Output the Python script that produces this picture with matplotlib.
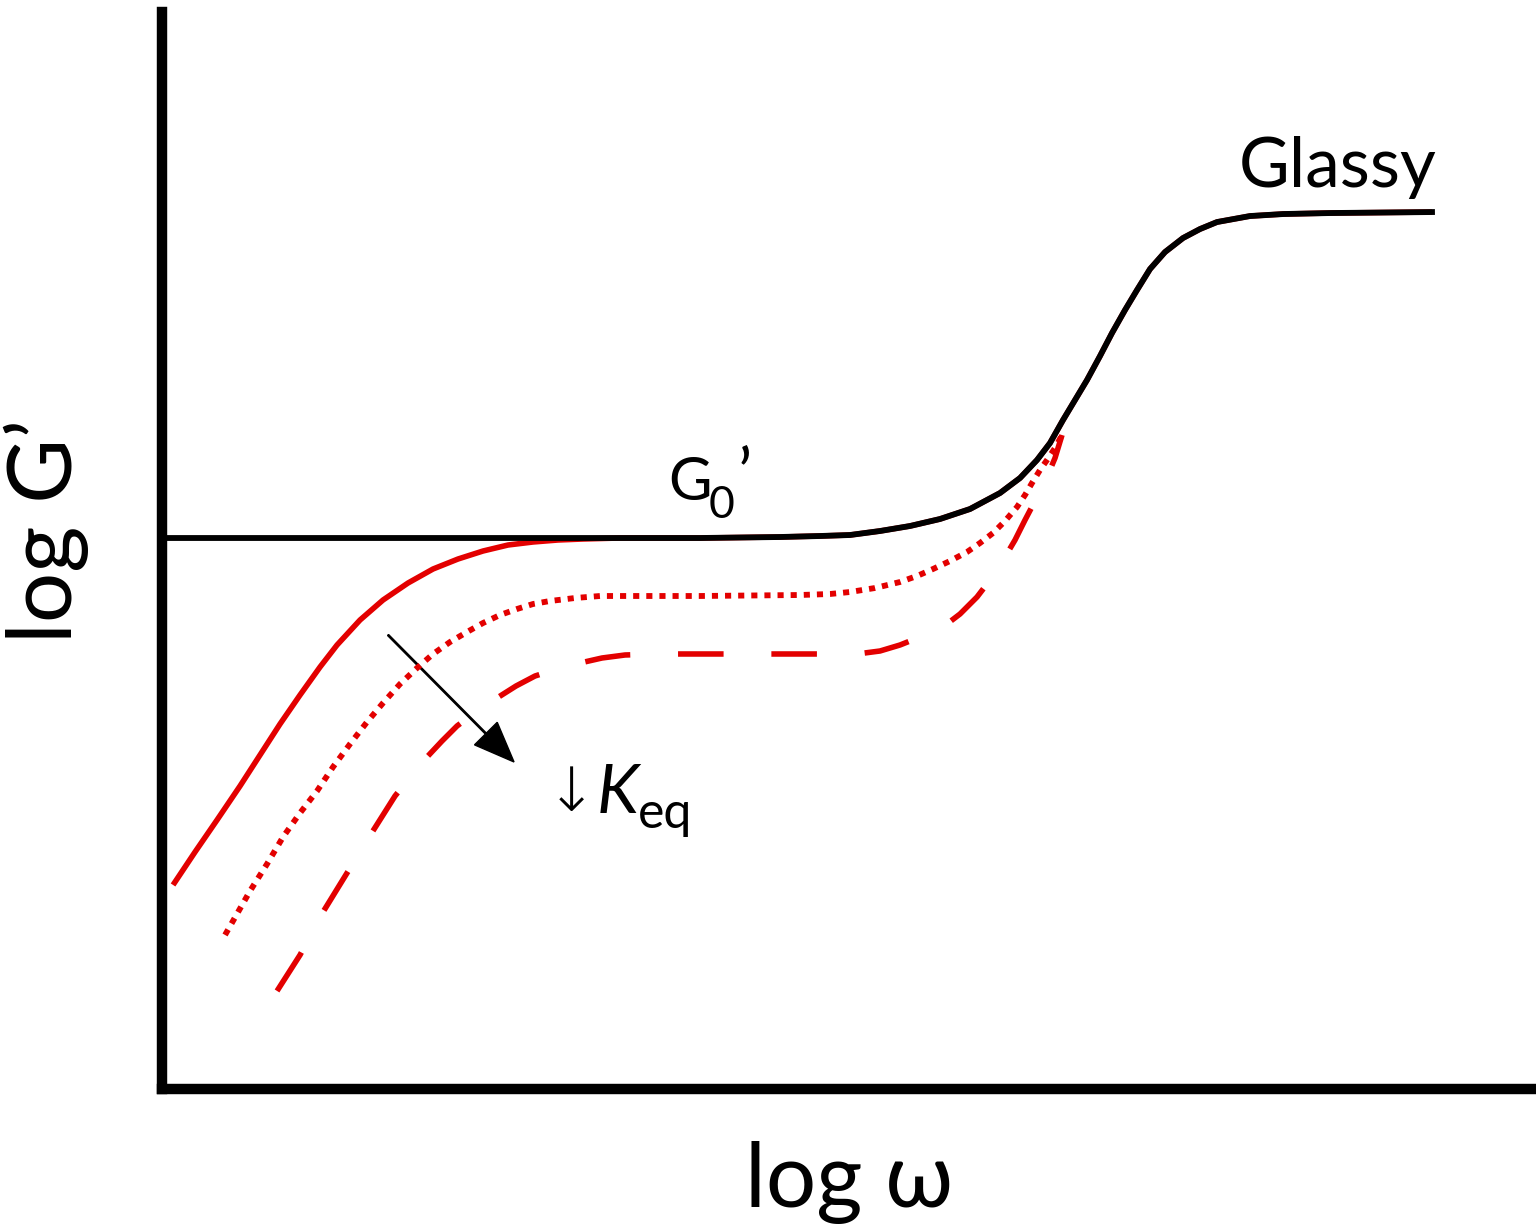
import numpy as np
import matplotlib
matplotlib.use('Agg')
import matplotlib.pyplot as plt

plt.rcParams['font.family'] = ['Lato', 'DejaVu Sans']

# Schematic storage modulus curves (arbitrary log units)
log_w_glass = [0.03, 3.38, 5.38, 6.18, 6.58, 6.88, 7.18, 7.48, 7.78, 8.08, 8.38,
               8.58, 8.75, 8.88, 9.01, 9.13, 9.25, 9.38, 9.50, 9.63, 9.75, 9.88,
               10.03, 10.21, 10.38, 10.55, 10.88, 11.21, 11.68, 12.70]
log_G_glass = [5.51, 5.51, 5.51, 5.52, 5.53, 5.54, 5.58, 5.63, 5.70, 5.80, 5.96,
               6.11, 6.29, 6.46, 6.69, 6.89, 7.09, 7.33, 7.56, 7.79, 7.99, 8.20,
               8.37, 8.51, 8.60, 8.67, 8.73, 8.75, 8.76, 8.77]

# high K_eq (solid)
log_w_high = [0.11, 0.33, 0.55, 0.78, 0.98, 1.18, 1.38, 1.58, 1.75, 1.98, 2.21,
              2.46, 2.71, 2.96, 3.21, 3.46, 3.71, 3.96, 4.21, 4.58]
log_G_high = [2.04, 2.37, 2.69, 3.03, 3.34, 3.65, 3.94, 4.22, 4.44, 4.69, 4.89,
              5.06, 5.20, 5.30, 5.38, 5.44, 5.47, 5.49, 5.50, 5.51]

# intermediate K_eq (dotted)
log_w_mid = [0.63, 0.88, 1.05, 1.21, 1.38, 1.55, 1.71, 1.88, 2.05, 2.21, 2.38,
             2.55, 2.71, 2.88, 3.05, 3.21, 3.38, 3.55, 3.71, 3.88, 4.13, 4.38,
             5.38, 6.38, 6.68, 6.88, 7.13, 7.38, 7.55, 7.71, 7.88, 8.05, 8.18,
             8.31, 8.43, 8.55, 8.63, 8.70, 8.78, 8.85, 8.93, 9.00]
log_G_mid = [1.54, 1.98, 2.25, 2.52, 2.76, 2.98, 3.22, 3.45, 3.67, 3.86, 4.05,
             4.21, 4.35, 4.47, 4.57, 4.66, 4.74, 4.80, 4.85, 4.88, 4.91, 4.93,
             4.93, 4.94, 4.95, 4.97, 5.01, 5.07, 5.13, 5.20, 5.28, 5.37, 5.46,
             5.56, 5.68, 5.82, 5.94, 6.06, 6.19, 6.29, 6.41, 6.54]

# low K_eq (dashed)
log_w_low = [1.15, 1.38, 1.61, 1.85, 2.09, 2.33, 2.49, 2.65, 2.80, 2.95, 3.15,
             3.35, 3.54, 3.73, 3.95, 4.18, 4.40, 4.63, 4.98, 5.98, 6.95, 7.18,
             7.38, 7.58, 7.81, 7.98, 8.15, 8.28, 8.43, 8.53, 8.63, 8.74, 8.85,
             8.93, 9.00]
log_G_low = [0.98, 1.34, 1.77, 2.16, 2.55, 2.93, 3.13, 3.32, 3.48, 3.63, 3.78,
             3.91, 4.03, 4.13, 4.20, 4.26, 4.31, 4.34, 4.35, 4.35, 4.35, 4.38,
             4.44, 4.52, 4.62, 4.75, 4.92, 5.09, 5.32, 5.49, 5.69, 5.90, 6.12,
             6.31, 6.54]

red = '#e30000'

fig = plt.figure(figsize=(15.36, 12.31), dpi=100)
ax = fig.add_axes([0.1055, 0.1154, 0.8945, 0.8748])
ax.set_xlim(0, 13.74)
ax.set_ylim(0, 10.77)

# solid red joins the glassy curve once it reaches the plateau
gx = np.array(log_w_glass)
gy = np.array(log_G_glass)
tail = gx > log_w_high[-1]
ax.plot(np.r_[log_w_high, gx[tail]], np.r_[log_G_high, gy[tail]],
        color=red, lw=4.0, solid_capstyle='butt', solid_joinstyle='round')
ax.plot(log_w_mid, log_G_mid, color=red, lw=4.2,
        linestyle=(0, (1.05, 1.2)), dash_capstyle='butt')
ax.plot(log_w_low, log_G_low, color=red, lw=4.0,
        linestyle=(0, (8.2, 8.6)), dash_capstyle='butt')
ax.plot(gx, gy, color='black', lw=4.2, solid_joinstyle='round')

# arrow showing decreasing K_eq
ax.arrow(2.26, 4.54, 1.26, -1.27, width=0.014, head_width=0.32,
         head_length=0.40, length_includes_head=True, color='black')

ax.text(10.77, 9.02, 'Glassy', fontsize=50, ha='left', va='baseline')
ax.text(5.06, 5.89, 'G', fontsize=43, ha='left', va='baseline')
ax.text(5.47, 5.71, '0', fontsize=32, ha='left', va='baseline')
ax.text(5.76, 5.93, '\u2019', fontsize=48, ha='left', va='baseline')

ax.text(3.84, 2.78, '\u2193', fontsize=44, ha='left', va='baseline',
        family=['DejaVu Sans'], fontweight='light')
ax.text(4.35, 2.76, 'K', fontsize=49, style='italic', ha='left', va='baseline')
ax.text(4.76, 2.61, 'eq', fontsize=36, ha='left', va='baseline')

for side in ['top', 'right']:
    ax.spines[side].set_visible(False)
for side in ['left', 'bottom']:
    ax.spines[side].set_linewidth(7.5)
ax.set_xticks([])
ax.set_yticks([])

fig.text(849 / 1536, 1 - 1207 / 1231, 'log \u03c9', fontsize=64,
         ha='center', va='baseline')
fig.text(72 / 1536, 1 - 531 / 1231, 'log G\u2019', fontsize=64, rotation=90,
         rotation_mode='anchor', ha='center', va='baseline')

fig.savefig('out.png', dpi=100)
